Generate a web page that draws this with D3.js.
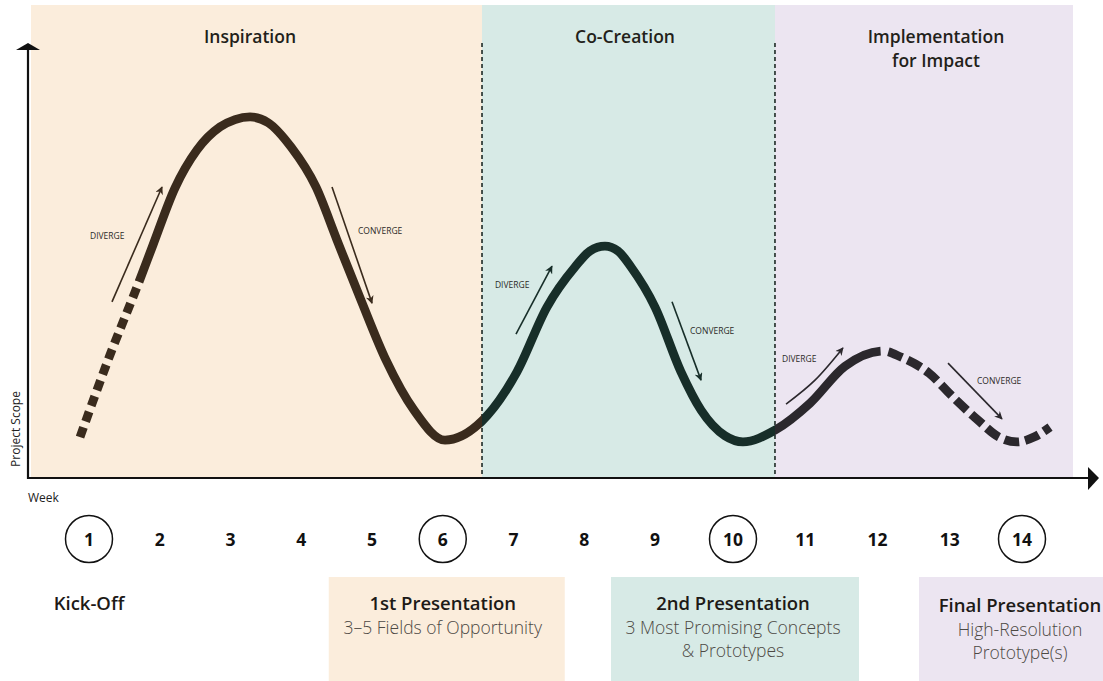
<!DOCTYPE html>
<html><head><meta charset="utf-8">
<script src="https://cdn.jsdelivr.net/npm/d3@7"></script>
<style>
body{margin:0;background:#fff}
svg{display:block;font-family:"Open Sans",Roboto,sans-serif}
</style>
</head><body>
<svg id="chart" width="1103" height="681"></svg>
<script>
// ---------------- DATA ----------------
const weeks = [1,2,3,4,5,6,7,8,9,10,11,12,13,14];
const milestoneWeeks = [1,6,10,14];

const phaseNames = ["Inspiration", "Co-Creation", "Implementation\nfor Impact"];
const phaseStartWeek = [0.18, 6.555, 10.581];
const phaseEndWeek = [6.555, 10.581, 14.706];
const phaseTitleWeek = [3.276, 8.576, 12.81];

// Project-scope curve (x in weeks, y = scope 0..100)
const curveWeek = [0.873,1.297,1.707,1.905,2.216,2.526,2.852,3.064,3.276,3.530,3.855,4.208,4.505,4.844,5.198,5.594,6.032,
  6.555,7.049,7.473,7.869,8.081,8.293,8.477,8.661,9.000,9.333,9.590,9.897,10.138,
  10.581,11.066,11.550,12.076,12.325,12.713,13.045,13.391,13.682,13.931,14.166,14.388];
const curveScope = [9.4,28.3,45.1,53.6,66.7,75.4,80.7,82.4,83.0,81.7,76.1,66.9,54.7,40.9,27.1,15.6,8.7,
  13.1,24.4,39.3,48.5,52.2,53.3,52.2,48.5,39.3,24.4,15.6,9.7,8.3,
  11.0,17.2,25.7,29.2,27.8,24.1,18.6,13.3,9.4,8.3,9.4,11.7];
const solidFromWeek = 1.707;   // dashed before this
const solidToWeek = 12.035;    // gap at third peak
const dashResumeWeek = 12.145; // dashed after this

// Diverge / converge annotations
const annoLabels = ["DIVERGE","CONVERGE","DIVERGE","CONVERGE","DIVERGE","CONVERGE"];
const annoPhase = [0,0,1,1,2,2];
const annoLabelWeek = [1.014, 4.802, 6.738, 9.449, 10.678, 13.377];
const annoLabelScope = [55.4, 56.6, 44.1, 33.6, 27.1, 22.1];
const annoArrowWeeks = [[1.325,2.032],[4.435,5.000],[7.035,7.544],[9.218,9.590],[10.734,11.135,11.522],[12.976,13.723]];
const annoArrowScopes = [[40.5,66.9],[66.9,40.2],[33.1,48.7],[40.5,22.5],[17.0,22.5,29.9],[26.4,13.6]];

// Milestones
const milestoneTitles = ["Kick-Off", "1st Presentation", "2nd Presentation", "Final Presentation"];
const milestoneSubs = [[], ["3\u20135 Fields of Opportunity"], ["3 Most Promising Concepts", "& Prototypes"], ["High-Resolution", "Prototype(s)"]];
const milestoneBoxed = [false, true, true, true];
const milestonePhase = [null, 0, 1, 2];

const yLabel = "Project Scope";
const xLabel = "Week";

// ---------------- STYLE / LAYOUT ----------------
const panelFill = ["#fbeddc", "#d7eae6", "#ece5f1"];
const curveColor = ["#3a2b1d", "#172e29", "#2b282d"];
const boxLeftOffset = [0, 114, 122, 103];
const boxRightOffset = [0, 122, 126, 130];

const svg = d3.select("#chart");
const x = d3.scaleLinear().domain([1, 9, 10, 14]).range([89, 655, 733, 1022]);
const y = d3.scaleLinear().domain([0, 100]).range([478, 43]);
const panelTop = 5;
const defs = svg.append("defs");

// panels + titles
phaseNames.forEach((n, i) => {
  svg.append("rect")
    .attr("x", x(phaseStartWeek[i])).attr("y", panelTop)
    .attr("width", x(phaseEndWeek[i]) - x(phaseStartWeek[i]))
    .attr("height", y(0) - panelTop)
    .attr("fill", panelFill[i]);
  const t = svg.append("text")
    .attr("x", x(phaseTitleWeek[i])).attr("y", 43)
    .attr("text-anchor", "middle").attr("font-size", 17.5).attr("font-weight", 600)
    .attr("fill", "#231f1a");
  n.split("\n").forEach((l, j) => t.append("tspan").attr("x", x(phaseTitleWeek[i])).attr("dy", j ? 23.5 : 0).text(l));
});

// dashed dividers
phaseStartWeek.slice(1).forEach(w => {
  svg.append("line")
    .attr("x1", x(w)).attr("x2", x(w)).attr("y1", y(100)).attr("y2", y(0))
    .attr("stroke", "#1e2a26").attr("stroke-width", 1.6).attr("stroke-dasharray", "4 3");
});

// curve
const pts = curveWeek.map((w, i) => [x(w), y(curveScope[i])]);
const pathD = d3.line().curve(d3.curveMonotoneX)(pts);
const probe = svg.append("path").attr("d", pathD).attr("fill", "none").attr("stroke", "none");
const node = probe.node();
const L = node.getTotalLength();
function lengthAtX(px) {
  let lo = 0, hi = L;
  while (hi - lo > 0.25) {
    const mid = (lo + hi) / 2;
    if (node.getPointAtLength(mid).x < px) lo = mid; else hi = mid;
  }
  return lo;
}
const L1 = lengthAtX(x(solidFromWeek));
const L2 = lengthAtX(x(solidToWeek));
const L3 = lengthAtX(x(dashResumeWeek));
const dashArr = [];
const n1 = Math.max(1, Math.round(L1 / 16.5));
const unit1 = L1 / n1;
for (let i = 0; i < n1; i++) dashArr.push(unit1 * 0.62, unit1 * 0.38);
dashArr.push(L2 - L1, L3 - L2);
let pos = L3;
while (pos < L) { dashArr.push(15, 6); pos += 21; }
dashArr.push(1, 2000);
probe.remove();

function clip(id, x0, x1) {
  defs.append("clipPath").attr("id", id).append("rect")
    .attr("x", x0).attr("y", 0).attr("width", x1 - x0).attr("height", 681);
  return `url(#${id})`;
}
const bounds = [0, x(phaseStartWeek[1]), x(phaseStartWeek[2]), 1103];
curveColor.forEach((c, i) => {
  svg.append("path").attr("d", pathD)
    .attr("fill", "none").attr("stroke", c).attr("stroke-width", 8.8)
    .attr("stroke-dasharray", dashArr.join(" "))
    .attr("clip-path", clip("cp" + i, bounds[i], bounds[i + 1]));
});

// annotations
curveColor.forEach((c, i) => {
  defs.append("marker").attr("id", "ah" + i).attr("viewBox", "0 0 10 10")
    .attr("refX", 9).attr("refY", 5).attr("markerWidth", 9).attr("markerHeight", 8)
    .attr("markerUnits", "userSpaceOnUse").attr("orient", "auto")
    .append("path").attr("d", "M0,0 L10,5 L0,10 L3,5 Z").attr("fill", c);
});
const aline = d3.line().curve(d3.curveNatural);
annoLabels.forEach((lab, i) => {
  const ap = annoArrowWeeks[i].map((w, j) => [x(w), y(annoArrowScopes[i][j])]);
  svg.append("path").attr("d", aline(ap)).attr("fill", "none")
    .attr("stroke", curveColor[annoPhase[i]]).attr("stroke-width", 1.6)
    .attr("marker-end", `url(#ah${annoPhase[i]})`);
  svg.append("text").attr("x", x(annoLabelWeek[i])).attr("y", y(annoLabelScope[i]))
    .attr("dominant-baseline", "middle").attr("font-size", 8.5)
    .attr("fill", "#2c2a28").text(lab);
});

// axes
svg.append("line").attr("x1", 28).attr("x2", 28).attr("y1", y(0) + 1).attr("y2", y(100) + 6)
  .attr("stroke", "#111").attr("stroke-width", 2.2);
svg.append("path").attr("d", `M16,${y(100)+7} L40,${y(100)+7} L28,${y(100)} Z`).attr("fill", "#111");
svg.append("line").attr("x1", 27).attr("x2", 1090).attr("y1", y(0)).attr("y2", y(0))
  .attr("stroke", "#111").attr("stroke-width", 2.2);
svg.append("path").attr("d", `M1088,${y(0)-11} L1099,${y(0)} L1088,${y(0)+12} Z`).attr("fill", "#111");

svg.append("text").attr("transform", `translate(20,429) rotate(-90)`)
  .attr("text-anchor", "middle").attr("font-size", 12).attr("fill", "#222").text(yLabel);
svg.append("text").attr("x", 28).attr("y", 502).attr("font-size", 12).attr("fill", "#222").text(xLabel);

// week ticks
const wy = 539;
svg.selectAll(".ms").data(milestoneWeeks).enter().append("circle")
  .attr("cx", d => x(d)).attr("cy", wy).attr("r", 23.5)
  .attr("fill", "none").attr("stroke", "#111").attr("stroke-width", 1.5);
svg.selectAll(".wk").data(weeks).enter().append("text")
  .attr("x", d => x(d)).attr("y", wy).attr("text-anchor", "middle").attr("dominant-baseline", "central")
  .attr("font-size", 17.5).attr("font-weight", 700).attr("fill", "#111").text(d => d);

// milestone boxes
milestoneTitles.forEach((t, i) => {
  const cx = x(milestoneWeeks[i]) - (i === 3 ? 2 : 0);
  if (milestoneBoxed[i]) {
    svg.append("rect").attr("x", x(milestoneWeeks[i]) - boxLeftOffset[i]).attr("y", 577)
      .attr("width", boxLeftOffset[i] + boxRightOffset[i]).attr("height", 104)
      .attr("fill", panelFill[milestonePhase[i]]);
  }
  const ty = i === 3 ? 612 : 610;
  svg.append("text").attr("x", cx).attr("y", ty).attr("text-anchor", "middle")
    .attr("font-size", 18.5).attr("font-weight", 600).attr("fill", "#1d1a17").text(t);
  milestoneSubs[i].forEach((s, j) => {
    svg.append("text").attr("x", cx).attr("y", ty + 24 + j * 23).attr("text-anchor", "middle")
      .attr("font-size", 17.5).attr("font-weight", 300).attr("fill", "#4d4944").text(s);
  });
});
</script>
</body></html>
